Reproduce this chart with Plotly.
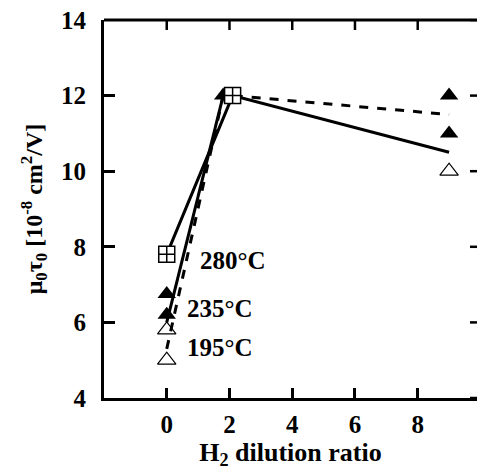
import plotly.graph_objects as go

# markers
sq_x = [0, 2.1]
sq_y = [7.8, 12.0]
filled_x = [0, 0, 1.8, 9, 9]
filled_y = [6.75, 6.2, 12.0, 12.0, 11.0]
open_x = [0, 0, 9]
open_y = [5.8, 5.0, 10.0]

# trend lines
solid1_x = [0, 2.1, 9]
solid1_y = [7.8, 12.0, 10.5]
solid2_x = [0, 1.8]
solid2_y = [6.0, 12.0]
dash_x = [0, 1.8, 2.1, 9]
dash_y = [5.3, 12.0, 12.0, 11.5]

temp_labels = ["280°C", "235°C", "195°C"]
temp_x = [1.0, 0.58, 0.58]
temp_y = [7.65, 6.37, 5.34]

x_ticks = [0, 2, 4, 6, 8]
y_ticks = [4, 6, 8, 10, 12, 14]

FONT = "Liberation Serif"
fig = go.Figure()

fig.add_trace(go.Scatter(x=solid1_x, y=solid1_y, mode="lines",
                         line=dict(color="black", width=3), showlegend=False))
fig.add_trace(go.Scatter(x=solid2_x, y=solid2_y, mode="lines",
                         line=dict(color="black", width=3), showlegend=False))
fig.add_trace(go.Scatter(x=dash_x, y=dash_y, mode="lines",
                         line=dict(color="black", width=3, dash="dash"), showlegend=False))
fig.add_trace(go.Scatter(x=open_x, y=open_y, mode="markers",
                         marker=dict(symbol="triangle-up-open", size=16, color="black",
                                     line=dict(width=1.2, color="black")), showlegend=False))
fig.add_trace(go.Scatter(x=filled_x, y=filled_y, mode="markers",
                         marker=dict(symbol="triangle-up", size=16, color="black",
                                     line=dict(width=0)), showlegend=False))
fig.add_trace(go.Scatter(x=sq_x, y=sq_y, mode="markers",
                         marker=dict(symbol="square-cross", size=16, color="white",
                                     line=dict(width=1.5, color="black")), showlegend=False))

for t, x, y in zip(temp_labels, temp_x, temp_y):
    fig.add_annotation(x=x, y=y, text=t, showarrow=False, xanchor="left", yanchor="middle",
                       font=dict(family=FONT, size=25, color="black", weight="bold"))

# top frame line with downward ticks, and short inward ticks on the right edge
fig.add_shape(type="line", xref="paper", yref="paper", x0=0, x1=1, y0=1, y1=1,
              line=dict(color="black", width=3), layer="above")
for xv in x_ticks:
    fig.add_shape(type="line", xref="x", yref="paper", x0=xv, x1=xv, y0=1, y1=1 - 10 / 378,
                  line=dict(color="black", width=2.5), layer="above")
for yv in y_ticks:
    fig.add_shape(type="line", xref="paper", yref="y", x0=1 - 7 / 373, x1=1, y0=yv, y1=yv,
                  line=dict(color="black", width=2.5), layer="above")

fig.update_layout(
    width=477, height=472,
    margin=dict(l=104, r=0, t=20, b=74),
    paper_bgcolor="white", plot_bgcolor="white",
    font=dict(family=FONT, size=25, color="black", weight="bold"),
    xaxis=dict(range=[-2, 9.89], tickvals=x_ticks, showgrid=False, zeroline=False,
               showline=True, linewidth=3, linecolor="black",
               ticks="inside", ticklen=10, tickwidth=2.5, tickcolor="black",
               ticklabelstandoff=2,
               title=dict(text="H<sub>2</sub> dilution ratio", standoff=6,
                          font=dict(family=FONT, size=26, weight="bold"))),
    yaxis=dict(range=[4, 14], tickvals=y_ticks, showgrid=False, zeroline=False,
               showline=True, linewidth=3, linecolor="black",
               ticks="inside", ticklen=11, tickwidth=2.5, tickcolor="black",
               ticklabelstandoff=10,
               title=dict(text="μ<sub>0</sub>τ<sub>0</sub> [10<sup>-8</sup> cm<sup>2</sup>/V]",
                          standoff=12, font=dict(family=FONT, size=24, weight="bold"))),
)

fig.write_html("out.html", config={"displayModeBar": False},
               post_script="document.body.style.margin='0';")
